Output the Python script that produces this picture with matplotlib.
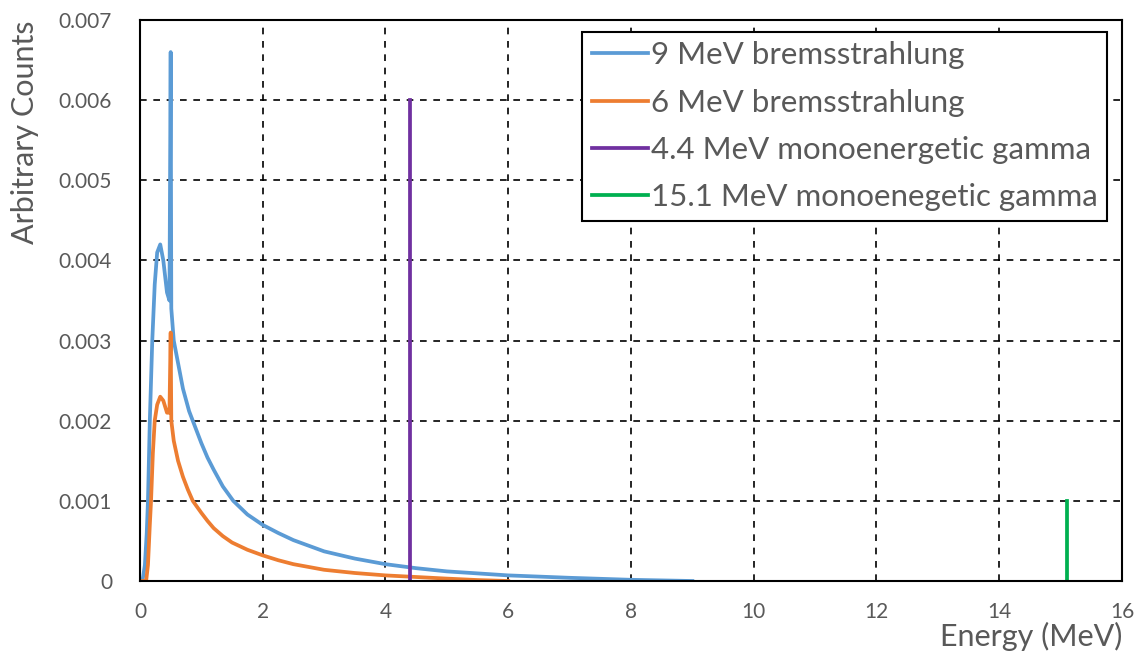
"""Photon source spectra: bremsstrahlung curves and monoenergetic gamma lines."""

import matplotlib
matplotlib.use("Agg")
import matplotlib.pyplot as plt
from matplotlib.ticker import MultipleLocator, FuncFormatter

# 9 MeV bremsstrahlung spectrum (with 511 keV annihilation spike)
brem9_e = [0.0, 0.04, 0.08, 0.11, 0.13, 0.16, 0.2, 0.24, 0.28, 0.33, 0.38, 0.44,
           0.48, 0.5, 0.51, 0.55, 0.6, 0.7, 0.8, 0.86, 1.0, 1.1, 1.2, 1.35, 1.52,
           1.75, 2.0, 2.25, 2.5, 3.0, 3.5, 4.0, 4.5, 5.0, 6.0, 7.0, 8.0, 9.0]
brem9_c = [0.0, 0.0, 0.0002, 0.0006, 0.001, 0.002, 0.003, 0.0037, 0.0041, 0.0042,
           0.0040, 0.0036, 0.0035, 0.0066, 0.0034, 0.0030, 0.0028, 0.0024, 0.00212,
           0.002, 0.00172, 0.00154, 0.00139, 0.00118, 0.001, 0.00083, 0.0007,
           0.0006, 0.00051, 0.00037, 0.00028, 0.00021, 0.00016, 0.00012, 0.00007,
           0.00004, 0.000015, 0.0]

# 6 MeV bremsstrahlung spectrum
brem6_e = [0.0, 0.1, 0.13, 0.16, 0.18, 0.21, 0.24, 0.28, 0.33, 0.38, 0.44, 0.48,
           0.5, 0.51, 0.55, 0.62, 0.7, 0.78, 0.86, 1.0, 1.1, 1.2, 1.35, 1.5, 1.75,
           2.0, 2.25, 2.5, 3.0, 3.5, 4.0, 4.5, 5.0, 5.5, 6.0]
brem6_c = [0.0, 0.0, 0.0002, 0.0007, 0.001, 0.0016, 0.002, 0.0022, 0.0023, 0.00225,
           0.0021, 0.0021, 0.0031, 0.002, 0.00175, 0.0015, 0.0013, 0.00114, 0.001,
           0.00085, 0.00075, 0.00066, 0.00056, 0.00048, 0.00039, 0.00032, 0.00026,
           0.00021, 0.00014, 0.0001, 0.00007, 0.00005, 0.00003, 0.000012, 0.0]

# monoenergetic lines
gamma44_e = [4.4, 4.4]
gamma44_c = [0.0, 0.006]
gamma151_e = [15.1, 15.1]
gamma151_c = [0.0, 0.001]

labels = ["9 MeV bremsstrahlung", "6 MeV bremsstrahlung",
          "4.4 MeV monoenergetic gamma", "15.1 MeV monoenegetic gamma"]
colors = ["#5B9BD5", "#ED7D31", "#7030A0", "#00B050"]

plt.rcParams["font.family"] = ["Lato", "DejaVu Sans"]
text_color = "#595959"

fig = plt.figure(figsize=(11.4, 6.65), dpi=100)
ax = fig.add_axes([0.1228, 0.1263, 0.8614, 0.8436])

series = [(brem9_e, brem9_c), (brem6_e, brem6_c),
          (gamma44_e, gamma44_c), (gamma151_e, gamma151_c)]
for (x, y), lab, col in zip(series, labels, colors):
    ax.plot(x, y, color=col, lw=2.7, label=lab, solid_joinstyle="round")

ax.set_xlim(0, 16)
ax.set_ylim(0, 0.007)
ax.xaxis.set_major_locator(MultipleLocator(2))
ax.yaxis.set_major_locator(MultipleLocator(0.001))
ax.yaxis.set_major_formatter(FuncFormatter(lambda v, p: "0" if abs(v) < 1e-12 else f"{v:.3f}"))

ax.grid(True, color="black", linestyle=(0, (4, 4)), linewidth=1.2)
for s in ax.spines.values():
    s.set_color("black")
    s.set_linewidth(1.5)
ax.tick_params(length=0, labelsize=15, labelcolor=text_color)
ax.tick_params(axis="x", pad=15)
ax.tick_params(axis="y", pad=20)

ax.set_xlabel("Energy (MeV)", loc="right", fontsize=22, color=text_color, labelpad=0)
ax.set_ylabel("Arbitrary Counts", loc="top", fontsize=22, color=text_color, labelpad=14)

leg = ax.legend(loc="upper right", bbox_to_anchor=(0.985, 0.979), fontsize=22.5,
                labelcolor=text_color, fancybox=False, framealpha=1,
                edgecolor="black", handlelength=1.8, handletextpad=0.1,
                borderpad=0.3, labelspacing=0.62, borderaxespad=0)
leg.get_frame().set_linewidth(1.5)

fig.savefig("out.png", dpi=100)
